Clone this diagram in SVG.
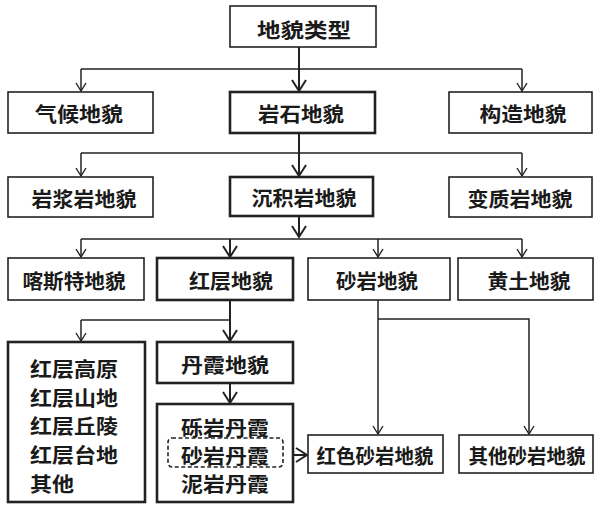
<svg xmlns="http://www.w3.org/2000/svg" width="600" height="506" viewBox="0 0 600 506">
<style>
.box{fill:#fff;stroke:#222;stroke-width:1.6}
.thick{fill:#fff;stroke:#222;stroke-width:2.6}
.dash{fill:none;stroke:#222;stroke-width:1.6;stroke-dasharray:4 2.5}
.t{font-family:"Noto Sans CJK SC","Noto Sans",sans-serif;font-weight:bold;font-size:20px;fill:#1a1a1a;text-anchor:middle;dominant-baseline:central}
.tl{font-family:"Noto Sans CJK SC","Noto Sans",sans-serif;font-weight:bold;font-size:20px;fill:#1a1a1a;dominant-baseline:central}
.ln{fill:none;stroke:#222;stroke-width:1.5}
.lnb{fill:none;stroke:#222;stroke-width:2}
</style>
<defs>
<marker id="a" markerWidth="12" markerHeight="12" refX="10" refY="6" orient="auto" markerUnits="userSpaceOnUse">
<path d="M2,1 L10,6 L2,11" fill="none" stroke="#222" stroke-width="1.4"/>
</marker>
<marker id="ab" markerWidth="14" markerHeight="16" refX="12" refY="8" orient="auto" markerUnits="userSpaceOnUse">
<path d="M1,1 L12,8 L1,15" fill="none" stroke="#222" stroke-width="2"/>
</marker>
</defs>
<rect width="600" height="506" fill="#fff"/>
<g id="connectors">
<path class="lnb" d="M299,47 V91" marker-end="url(#ab)"/>
<path class="ln" d="M81,69 H522"/>
<path class="ln" d="M81,69 V91" marker-end="url(#a)"/>
<path class="ln" d="M522,69 V91" marker-end="url(#a)"/>
<path class="lnb" d="M299,133 V176" marker-end="url(#ab)"/>
<path class="ln" d="M81,153 H522"/>
<path class="ln" d="M81,153 V176" marker-end="url(#a)"/>
<path class="ln" d="M522,153 V176" marker-end="url(#a)"/>
<path class="lnb" d="M299,216 V237" marker-end="url(#ab)"/>
<path class="ln" d="M81,239 H522"/>
<path class="ln" d="M81,239 V257" marker-end="url(#a)"/>
<path class="lnb" d="M230,239 V257" marker-end="url(#ab)"/>
<path class="ln" d="M378,239 V257" marker-end="url(#a)"/>
<path class="ln" d="M522,239 V257" marker-end="url(#a)"/>
<path class="lnb" d="M230,300 V341" marker-end="url(#ab)"/>
<path class="ln" d="M81,320 H230"/>
<path class="ln" d="M81,320 V341" marker-end="url(#a)"/>
<path class="lnb" d="M230,383 V403" marker-end="url(#ab)"/>
<path class="ln" d="M378,300 V434" marker-end="url(#a)"/>
<path class="ln" d="M378,319 H529 V434" marker-end="url(#a)"/>
<path class="lnb" d="M283,455 H307" marker-end="url(#ab)"/>
</g>
<g id="n-root"><rect class="box" x="230" y="6" width="146" height="41"/><text class="t" x="304" y="29" textLength="94" lengthAdjust="spacingAndGlyphs">地貌类型</text></g>
<g id="n-qihou"><rect class="box" x="8" y="92" width="145" height="41"/><text class="t" x="79" y="113" textLength="88" lengthAdjust="spacingAndGlyphs">气候地貌</text></g>
<g id="n-yanshi"><rect class="thick" x="230" y="92" width="145" height="41"/><text class="t" x="301" y="113" textLength="86" lengthAdjust="spacingAndGlyphs">岩石地貌</text></g>
<g id="n-gouzao"><rect class="box" x="449" y="92" width="143" height="41"/><text class="t" x="523" y="113" textLength="87" lengthAdjust="spacingAndGlyphs">构造地貌</text></g>
<g id="n-yanjiang"><rect class="box" x="8" y="177" width="145" height="40"/><text class="t" x="84" y="198" textLength="105" lengthAdjust="spacingAndGlyphs">岩浆岩地貌</text></g>
<g id="n-chenji"><rect class="thick" x="230" y="177" width="143" height="39"/><text class="t" x="304" y="197" textLength="105" lengthAdjust="spacingAndGlyphs">沉积岩地貌</text></g>
<g id="n-bianzhi"><rect class="box" x="449" y="177" width="143" height="40"/><text class="t" x="520" y="198" textLength="105" lengthAdjust="spacingAndGlyphs">变质岩地貌</text></g>
<g id="n-kasite"><rect class="box" x="8" y="258" width="136" height="42"/><text class="t" x="74" y="280" textLength="103" lengthAdjust="spacingAndGlyphs">喀斯特地貌</text></g>
<g id="n-hongceng"><rect class="thick" x="157" y="258" width="136" height="42"/><text class="t" x="231" y="280" textLength="84" lengthAdjust="spacingAndGlyphs">红层地貌</text></g>
<g id="n-shayan"><rect class="box" x="308" y="258" width="142" height="42"/><text class="t" x="377" y="280" textLength="82" lengthAdjust="spacingAndGlyphs">砂岩地貌</text></g>
<g id="n-huangtu"><rect class="box" x="458" y="258" width="135" height="42"/><text class="t" x="529" y="280" textLength="83" lengthAdjust="spacingAndGlyphs">黄土地貌</text></g>
<g id="n-hclist"><rect class="thick" x="8" y="342" width="137" height="160"/>
<text class="tl" x="30" y="368" textLength="88" lengthAdjust="spacingAndGlyphs">红层高原</text>
<text class="tl" x="30" y="397" textLength="88" lengthAdjust="spacingAndGlyphs">红层山地</text>
<text class="tl" x="30" y="425" textLength="88" lengthAdjust="spacingAndGlyphs">红层丘陵</text>
<text class="tl" x="30" y="454" textLength="88" lengthAdjust="spacingAndGlyphs">红层台地</text>
<text class="tl" x="30" y="483" textLength="44" lengthAdjust="spacingAndGlyphs">其他</text></g>
<g id="n-danxia"><rect class="thick" x="157" y="342" width="136" height="41"/><text class="t" x="225" y="364" textLength="88" lengthAdjust="spacingAndGlyphs">丹霞地貌</text></g>
<g id="n-dxlist"><rect class="thick" x="157" y="404" width="136" height="98"/>
<text class="t" x="225" y="427" textLength="88" lengthAdjust="spacingAndGlyphs">砾岩丹霞</text>
<text class="t" x="225" y="455" textLength="88" lengthAdjust="spacingAndGlyphs">砂岩丹霞</text>
<text class="t" x="225" y="483" textLength="88" lengthAdjust="spacingAndGlyphs">泥岩丹霞</text></g>
<g id="n-shayandx"><rect class="dash" x="168" y="438" width="115" height="29" rx="4"/></g>
<g id="n-hongse"><rect class="box" x="308" y="435" width="135" height="38"/><text class="t" x="375" y="455" textLength="117" lengthAdjust="spacingAndGlyphs">红色砂岩地貌</text></g>
<g id="n-qita"><rect class="box" x="459" y="435" width="134" height="38"/><text class="t" x="527" y="455" textLength="117" lengthAdjust="spacingAndGlyphs">其他砂岩地貌</text></g>
</svg>
